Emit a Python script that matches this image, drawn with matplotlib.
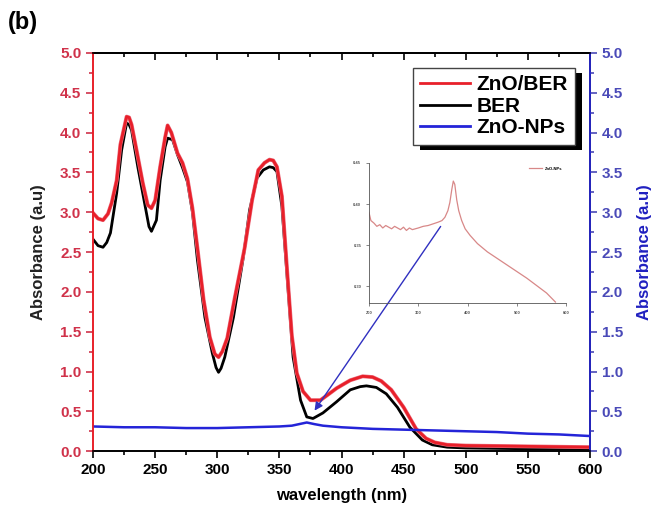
import matplotlib
matplotlib.use("Agg")
from matplotlib import pyplot as plt
from matplotlib.ticker import MultipleLocator, FormatStrFormatter
from matplotlib.patches import Rectangle
import matplotlib.patheffects as pe

plt.rcParams['font.family'] = ['Liberation Sans', 'DejaVu Sans']
plt.rcParams['font.weight'] = 'bold'

# UV-vis spectra (wavelength in nm, absorbance in a.u.)
wl_znober = [200, 204, 208, 212, 215, 219, 222, 224, 227, 229, 231, 235, 240, 244, 247, 250,
             254, 258, 260, 263, 268, 272, 276, 280, 284, 289, 294, 298, 301, 304, 308, 314,
             322, 328, 333, 338, 342, 345, 348, 352, 356, 360, 364, 369, 375, 383, 390, 396,
             407, 417, 425, 432, 440, 450, 460, 468, 475, 485, 500, 550, 600]
abs_znober = [2.99, 2.92, 2.90, 2.98, 3.12, 3.40, 3.85, 3.99, 4.20, 4.19, 4.10, 3.78, 3.37, 3.09, 3.05, 3.15,
              3.57, 3.94, 4.09, 4.00, 3.74, 3.62, 3.42, 3.05, 2.55, 1.90, 1.43, 1.22, 1.18, 1.25, 1.42, 1.92,
              2.55, 3.15, 3.53, 3.62, 3.66, 3.65, 3.57, 3.20, 2.31, 1.45, 0.98, 0.75, 0.64, 0.64, 0.72, 0.79,
              0.89, 0.94, 0.93, 0.88, 0.77, 0.55, 0.28, 0.16, 0.11, 0.08, 0.07, 0.06, 0.05]

wl_ber = [200, 204, 208, 211, 214, 219, 223, 227, 229, 231, 236, 242, 245, 247, 251, 254,
          258, 260, 264, 268, 272, 276, 280, 284, 290, 296, 299, 301, 303, 306, 313, 321,
          326, 332, 337, 342, 345, 348, 352, 356, 361, 367, 372, 377, 385, 396, 407, 415,
          420, 428, 436, 445, 455, 465, 473, 485, 500, 550, 600]
abs_ber = [2.66, 2.58, 2.56, 2.62, 2.74, 3.24, 3.78, 4.12, 4.10, 4.03, 3.57, 3.07, 2.82, 2.76, 2.90, 3.40,
           3.82, 3.93, 3.91, 3.72, 3.56, 3.38, 3.00, 2.40, 1.68, 1.23, 1.05, 0.99, 1.04, 1.18, 1.68, 2.44,
           3.03, 3.43, 3.53, 3.57, 3.56, 3.51, 3.07, 2.23, 1.18, 0.64, 0.43, 0.41, 0.48, 0.62, 0.77, 0.81,
           0.82, 0.80, 0.72, 0.55, 0.30, 0.14, 0.08, 0.05, 0.04, 0.03, 0.03]

wl_zno = [200, 225, 250, 275, 300, 325, 350, 360, 366, 372, 378, 385, 400, 425, 450, 475, 500, 525, 550, 575, 600]
abs_zno = [0.31, 0.30, 0.30, 0.29, 0.29, 0.30, 0.31, 0.32, 0.34, 0.36, 0.34, 0.32, 0.30, 0.28, 0.27, 0.26, 0.25, 0.24, 0.22, 0.21, 0.19]

# ZnO-NPs spectrum on its own scale (inset)
wl_zno_inset = [200, 204, 210, 216, 222, 228, 234, 240, 246, 252, 258, 264, 270, 276, 282, 288, 294,
                300, 310, 320, 330, 340, 348, 354, 360, 364, 368, 371, 374, 378, 382, 388, 395, 405,
                420, 440, 460, 480, 500, 520, 540, 560, 578]
abs_zno_inset = [0.390, 0.380, 0.377, 0.373, 0.375, 0.371, 0.374, 0.372, 0.370, 0.373, 0.371, 0.369, 0.372, 0.368,
                 0.371, 0.369, 0.370, 0.371, 0.373, 0.374, 0.376, 0.378, 0.380, 0.384, 0.392, 0.402, 0.418,
                 0.428, 0.424, 0.405, 0.392, 0.380, 0.370, 0.362, 0.352, 0.342, 0.334, 0.326, 0.318, 0.310,
                 0.301, 0.292, 0.281]

red = '#e8202a'
left_lab = '#d0324a'
blue = '#2424d8'
right_lab = '#4a4ab8'

fig = plt.figure(figsize=(6.6, 5.24), dpi=100)
ax = fig.add_axes([0.141, 0.139, 0.753, 0.760])
ax2 = ax.twinx()

ax.plot(wl_ber, abs_ber, color='black', lw=2.0)
ax.plot(wl_znober, abs_znober, color=red, lw=2.0,
        path_effects=[pe.Stroke(linewidth=2.8, foreground='#ec7080'), pe.Normal()])
ax2.plot(wl_zno, abs_zno, color=blue, lw=1.8)

ax.set_xlim(200, 600)
ax.set_ylim(0.0, 5.0)
ax2.set_ylim(0.0, 5.0)

ax.xaxis.set_major_locator(MultipleLocator(50))
ax.xaxis.set_minor_locator(MultipleLocator(25))
for a in (ax, ax2):
    a.yaxis.set_major_locator(MultipleLocator(0.5))
    a.yaxis.set_minor_locator(MultipleLocator(0.25))
    a.yaxis.set_major_formatter(FormatStrFormatter('%.1f'))

ax.tick_params(axis='x', which='both', direction='out', labelsize=11, width=1.2)
ax.tick_params(axis='x', which='major', length=5)
ax.tick_params(axis='x', which='minor', length=3)
ax.tick_params(axis='y', which='both', direction='out', colors=left_lab, labelsize=11, width=1.2)
ax.tick_params(axis='y', which='major', length=5)
ax.tick_params(axis='y', which='minor', length=3)
ax2.tick_params(axis='y', which='both', direction='out', colors=right_lab, labelsize=11, width=1.2)
ax2.tick_params(axis='y', which='major', length=5)
ax2.tick_params(axis='y', which='minor', length=3)

# top axis: inward ticks, no labels
top = ax.secondary_xaxis('top')
top.xaxis.set_major_locator(MultipleLocator(50))
top.xaxis.set_minor_locator(MultipleLocator(25))
top.tick_params(which='both', direction='in', labeltop=False, width=1.2)
top.tick_params(which='major', length=5)
top.tick_params(which='minor', length=3)

ax.spines['left'].set_color(red)
ax2.spines['left'].set_color(red)
ax2.spines['right'].set_color(blue)
for s in ('left', 'right', 'top', 'bottom'):
    ax.spines[s].set_linewidth(1.2)
    ax2.spines[s].set_linewidth(1.2)
top.spines['top'].set_linewidth(1.2)

ax.set_xlabel('wavelength (nm)', fontsize=12, fontweight='bold', labelpad=8)
ax.set_ylabel('Absorbance (a.u)', fontsize=12, fontweight='bold', color='#222222', labelpad=10)
ax2.set_ylabel('Absorbance (a.u)', fontsize=12, fontweight='bold', color='#2020c0', labelpad=10)

fig.text(0.012, 0.945, '(b)', fontsize=17, fontweight='bold')

# legend
h1, = ax.plot([], [], color=red, lw=2)
h2, = ax.plot([], [], color='black', lw=2)
h3, = ax.plot([], [], color=blue, lw=2)
leg = ax2.legend([h1, h2, h3], ['ZnO/BER', 'BER', 'ZnO-NPs'], loc='upper right',
                 bbox_to_anchor=(0.970, 0.962), borderaxespad=0, fontsize=15, frameon=True,
                 fancybox=False, handlelength=2.4, borderpad=0.35, labelspacing=0.12,
                 handletextpad=0.3, edgecolor='#444444', framealpha=1.0)
for t in leg.get_texts():
    t.set_fontweight('bold')
leg.get_frame().set_linewidth(1.0)

# arrow pointing from inset to the ZnO-NPs peak
ax.annotate('', xy=(377, 0.48), xytext=(481, 2.85),
            arrowprops=dict(arrowstyle='-|>', color='#3030c0', lw=1.0, mutation_scale=12))

# inset
ins = fig.add_axes([0.559, 0.422, 0.299, 0.267])
ins.plot(wl_zno_inset, abs_zno_inset, color='#d88888', lw=0.9, label='ZnO-NPs')
ins.set_xlim(200, 600)
ins.set_ylim(0.28, 0.45)
ins.set_xticks([200, 300, 400, 500, 600])
ins.set_yticks([0.30, 0.35, 0.40, 0.45])
ins.yaxis.set_major_formatter(FormatStrFormatter('%.2f'))
ins.tick_params(labelsize=3, length=2, width=0.5, colors='#555555')
ins.spines['top'].set_visible(False)
ins.spines['right'].set_visible(False)
for s in ('left', 'bottom'):
    ins.spines[s].set_linewidth(0.6)
    ins.spines[s].set_color('#555555')
ins.patch.set_alpha(0)
ins.legend(loc='upper right', fontsize=3, frameon=False, handlelength=3)

# solid drop shadow behind the legend box
fig.canvas.draw()
bb = leg.get_window_extent()
shadow = Rectangle((bb.x0 + 7, bb.y0 - 5), bb.width, bb.height, transform=None,
                   facecolor='black', edgecolor='none', zorder=4, clip_on=False)
ax2.add_patch(shadow)

fig.savefig('out.png', dpi=100)
